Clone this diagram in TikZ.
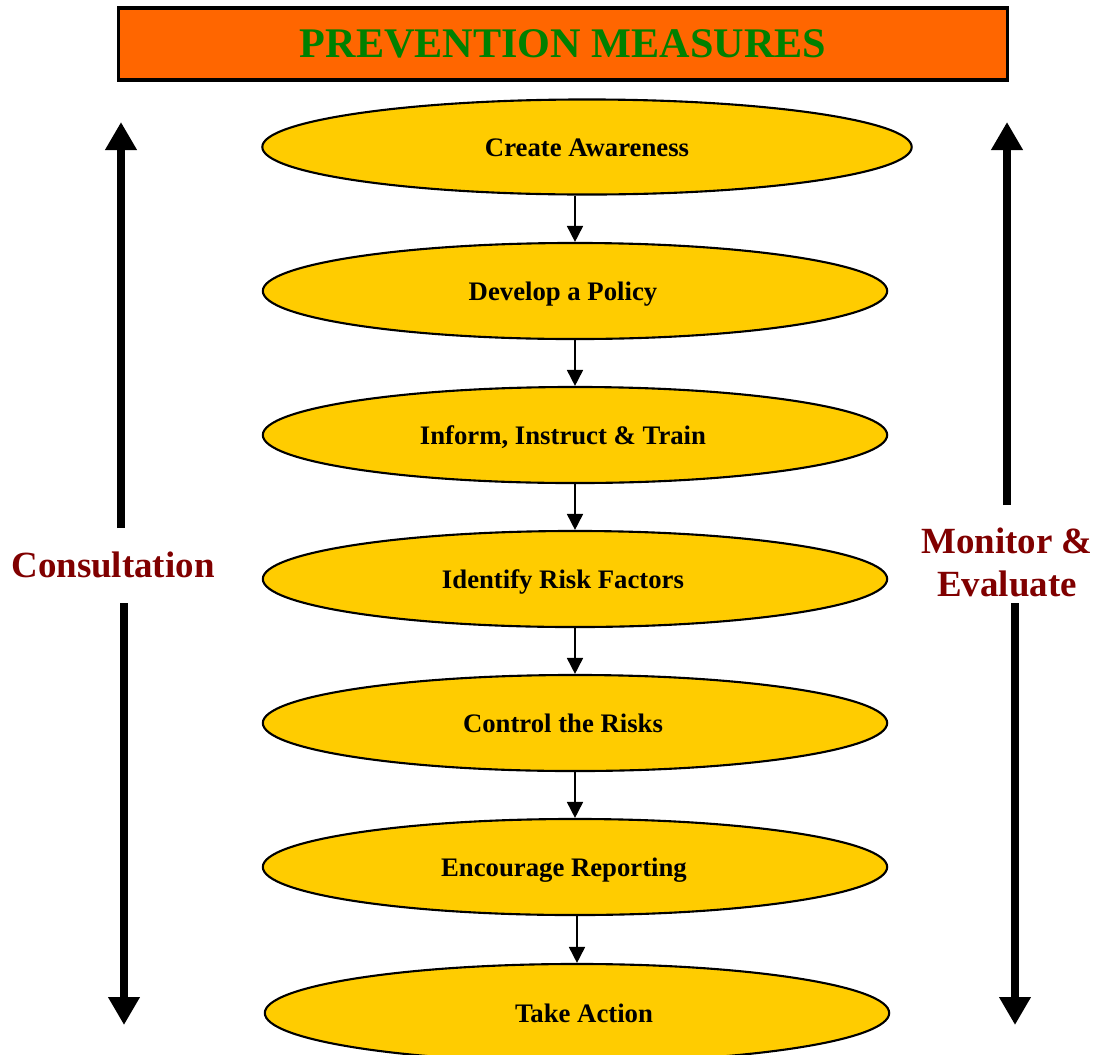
\documentclass[tikz,border=0pt]{standalone}
\usepackage{fontspec}
\setmainfont{Liberation Serif}
\usetikzlibrary{arrows.meta,shapes.geometric}
\definecolor{titleorange}{HTML}{FF6600}
\definecolor{stepyellow}{HTML}{FFCC00}
\definecolor{titlegreen}{HTML}{008000}
\definecolor{sidered}{HTML}{800000}

\begin{document}
\begin{tikzpicture}[x=0.01cm, y=-0.01cm,
	titlebox/.style={draw, line width=0.9pt, fill=titleorange, minimum width=8.88cm, minimum height=0.72cm, inner sep=0pt, text=titlegreen, font=\fontsize{12}{14}\selectfont\bfseries},
	stepnode/.style={ellipse, draw, line width=0.6pt, fill=stepyellow, minimum width=6.24cm, minimum height=0.96cm, inner sep=0pt, text height=1.8mm, text depth=0pt, font=\fontsize{7.6}{9}\selectfont\bfseries},
	textshift/.style={execute at begin node={\hspace*{#1}}},
	steparrow/.style={line width=0.5pt, -{Triangle[length=0.16cm, width=0.16cm]}},
	bigarrow/.style={line width=2pt, -{Triangle[length=0.28cm, width=0.30cm]}},
	sidelabel/.style={text=sidered, align=center, font=\fontsize{10.5}{12.2}\selectfont\bfseries}]
			%%%%% START %%%%%
			\useasboundingbox (0,0) rectangle (1100,1054);
			
			\node[titlebox] (title) at (563,44) {PREVENTION MEASURES};
			
			\node[stepnode, minimum width=6.49cm, minimum height=0.95cm] (aware) at (587,147) {Create Awareness};
			\node[stepnode, textshift=-0.24cm] (policy) at (575,291) {Develop a Policy};
			\node[stepnode, textshift=-0.24cm] (inform) at (575,435) {Inform, Instruct \& Train};
			\node[stepnode, textshift=-0.24cm] (risk) at (575,579) {Identify Risk Factors};
			\node[stepnode, textshift=-0.24cm] (control) at (575,723) {Control the Risks};
			\node[stepnode, textshift=-0.22cm] (report) at (575,867) {Encourage Reporting};
			\node[stepnode, textshift=0.14cm, minimum height=0.98cm] (action) at (577,1013) {Take Action};
			
			\foreach \a/\b in {aware/policy, policy/inform, inform/risk, risk/control, control/report, report/action}
				\draw[steparrow] (\b.north |- \a.south) -- (\b.north);
			
			% consultation
			\node[sidelabel] (consult) at (113,565) {Consultation};
			\coordinate (ctop) at (121,122);
			\coordinate (cup) at (121,528);
			\coordinate (cdown) at (124,603);
			\coordinate (cbot) at (124,1025);
			\draw[bigarrow] (cup) -- (ctop);
			\draw[bigarrow] (cdown) -- (cbot);
			
			% monitor & evaluate
			\node[sidelabel] (monitor) at (1007,562) {Monitor \&\\Evaluate};
			\coordinate (mtop) at (1007,122);
			\coordinate (mup) at (1007,505);
			\coordinate (mdown) at (1015,603);
			\coordinate (mbot) at (1015,1025);
			\draw[bigarrow] (mup) -- (mtop);
			\draw[bigarrow] (mdown) -- (mbot);
			
			%%%%% END %%%%%
\end{tikzpicture}
\end{document}
